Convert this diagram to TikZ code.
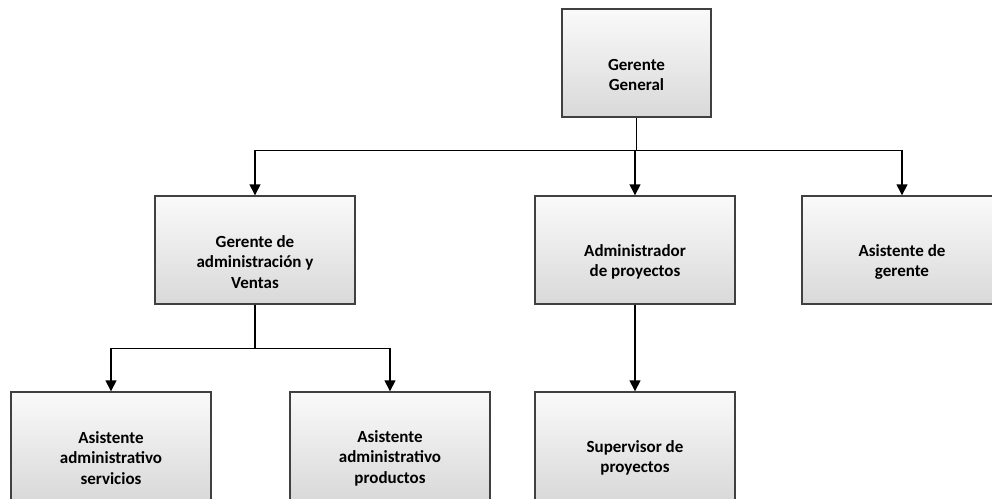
\documentclass[tikz,border=0pt]{standalone}
\usepackage{fontspec}
\setmainfont{Carlito}
\usetikzlibrary{arrows.meta}

\tikzset{
  puesto/.style={draw=black!75, line width=1.4pt, top color=black!2, bottom color=black!15,
    minimum width=200pt, minimum height=108pt, inner sep=0pt},
  texto/.style={align=center, inner sep=0pt, font=\fontsize{17}{20.5}\selectfont\bfseries},
  flecha/.style={line width=1.4pt, -{Triangle[width=11pt,length=11pt]}}
}

\begin{document}
\begin{tikzpicture}[x=1pt,y=-1pt]
   \useasboundingbox (0,0) rectangle (992,498);
   \clip (0,0) rectangle (992,498);

   % cajas
   \node[puesto, minimum width=149pt] (gg) at (636.5,63) {};
   \node[puesto] (gav) at (255,250) {};
   \node[puesto] (adm) at (635,250) {};
   \node[puesto] (asg) at (902,250) {};
   \node[puesto] (ass) at (111,446) {};
   \node[puesto] (asp) at (390,446) {};
   \node[puesto] (sup) at (635,446) {};

   % textos
   \node[texto] (gg-t) at ([yshift=-12pt]gg.center) {Gerente\\ General};
   \node[texto] (gav-t) at ([yshift=-12pt]gav.center) {Gerente de\\administración y\\Ventas};
   \node[texto] (adm-t) at ([yshift=-12pt]adm.center) {Administrador\\de proyectos};
   \node[texto] (asg-t) at ([yshift=-12pt]asg.center) {Asistente de\\gerente};
   \node[texto] (ass-t) at ([yshift=-12pt]ass.center) {Asistente\\administrativo\\servicios};
   \node[texto] (asp-t) at ([yshift=-12pt]asp.center) {Asistente\\administrativo\\productos};
   \node[texto] (sup-t) at ([yshift=-12pt]sup.center) {Supervisor de\\proyectos};

   % lineas
   \coordinate (b1) at ([yshift=-33pt]gg.south);
   \coordinate (b2) at ([yshift=-44pt]gav.south);
   \draw[line width=1.4pt] (gg.south) -- (b1);
   \draw[flecha] (b1) -| (gav.north);
   \draw[flecha] (b1) -| (adm.north);
   \draw[flecha] (b1) -| (asg.north);

   \draw[line width=1.4pt] (gav.south) -- (b2);
   \draw[flecha] (b2) -| (ass.north);
   \draw[flecha] (b2) -| (asp.north);

   \draw[flecha] (adm.south) -- (sup.north);
\end{tikzpicture}
\end{document}
